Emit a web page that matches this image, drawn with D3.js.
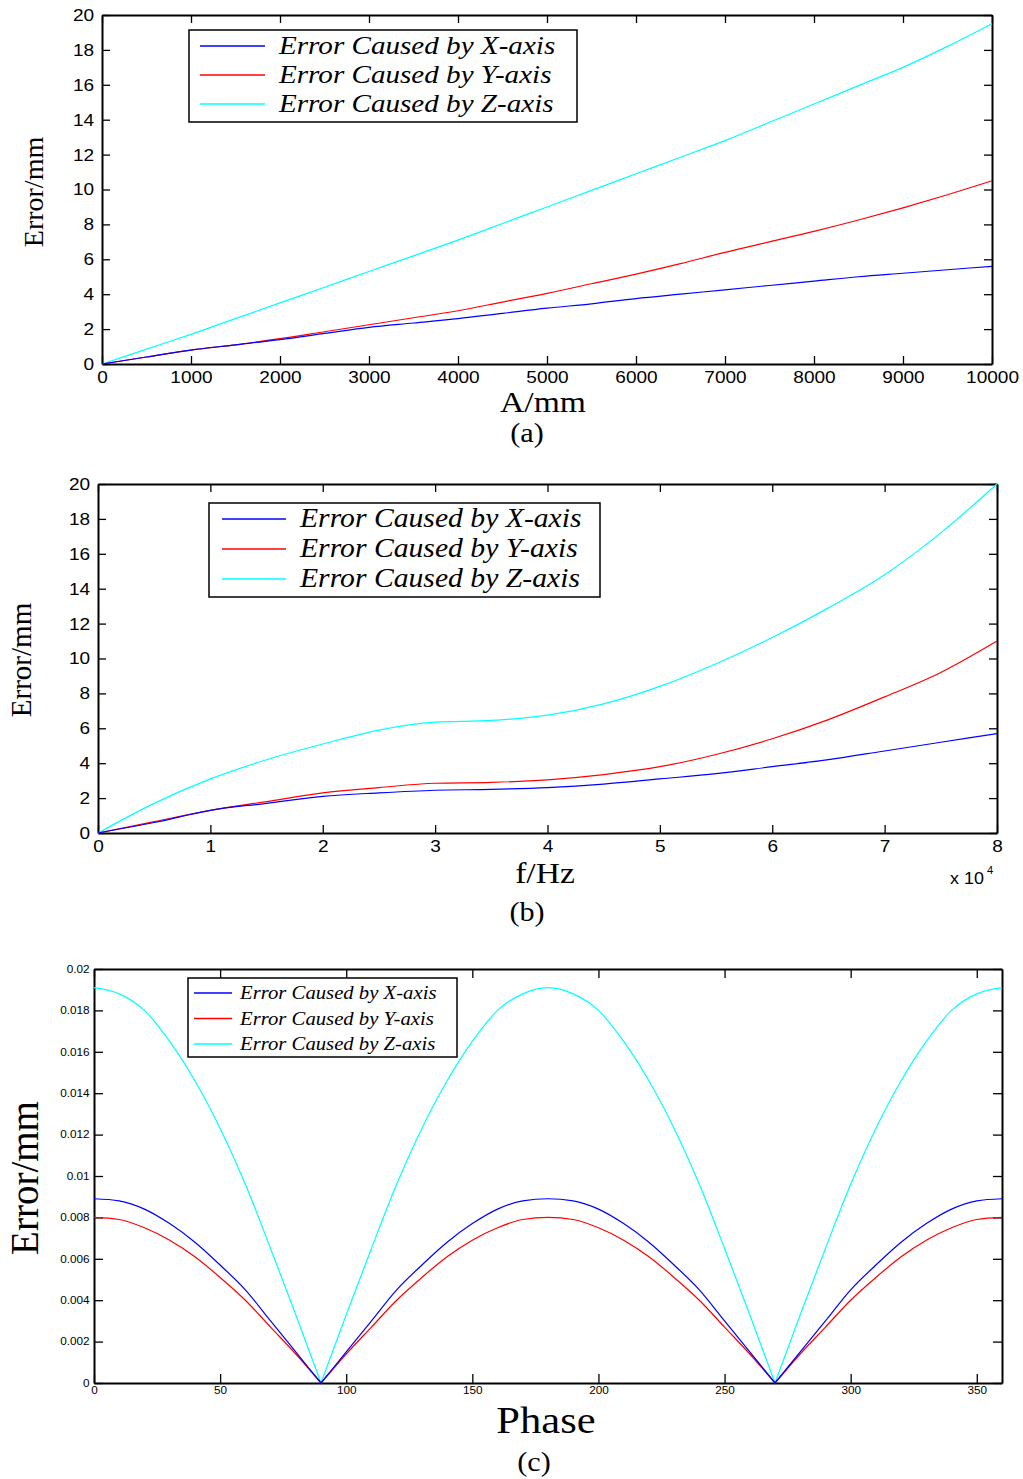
<!DOCTYPE html>
<html>
<head>
<meta charset="utf-8">
<title>Error curves</title>
<script src="https://d3js.org/d3.v7.min.js"></script>
<style>
  body { margin: 0; background: #fff; }
  .tick line { stroke: #000; stroke-width: 1.3px; }
  .tick text { fill: #000; font-family: "Liberation Sans", Arial, sans-serif; }
  .domain { stroke: #000; stroke-width: 2px; }
  .serif { font-family: "Liberation Serif", "Times New Roman", serif; fill: #000; }
</style>
</head>
<body>
<div id="chart"></div>
<script>
// ---- data ----
// (a) error vs amplitude A
var ampA = [0, 500, 1000, 1500, 2000, 2500, 3000, 3500, 4000, 4500, 5000, 5500, 6000, 6500, 7000, 7500, 8000, 8500, 9000, 9500, 10000];
var errAX = [0, 0.4, 0.8, 1.1, 1.4, 1.75, 2.1, 2.35, 2.6, 2.9, 3.2, 3.45, 3.75, 4.0, 4.25, 4.5, 4.75, 5.0, 5.2, 5.4, 5.6];
var errAY = [0, 0.4, 0.8, 1.1, 1.45, 1.85, 2.25, 2.65, 3.05, 3.55, 4.05, 4.6, 5.15, 5.75, 6.4, 7.0, 7.6, 8.25, 8.95, 9.7, 10.5];
var errAZ = [0, 0.85, 1.7, 2.6, 3.5, 4.4, 5.3, 6.2, 7.1, 8.05, 9.0, 9.95, 10.9, 11.85, 12.8, 13.85, 14.9, 15.95, 17.0, 18.2, 19.5];

// (b) error vs frequency f (x 10^4 Hz)
var freqB = [0, 0.5, 1, 1.5, 2, 2.5, 3, 3.5, 4, 4.5, 5, 5.5, 6, 6.5, 7, 7.5, 8];
var errBX = [0, 0.6, 1.3, 1.7, 2.1, 2.3, 2.45, 2.5, 2.6, 2.8, 3.1, 3.4, 3.8, 4.2, 4.7, 5.2, 5.7];
var errBY = [0, 0.65, 1.3, 1.8, 2.3, 2.6, 2.85, 2.9, 3.05, 3.35, 3.8, 4.5, 5.4, 6.5, 7.8, 9.2, 11.0];
var errBZ = [0, 1.7, 3.1, 4.2, 5.1, 5.9, 6.35, 6.45, 6.75, 7.4, 8.4, 9.7, 11.2, 12.9, 14.8, 17.2, 20.0];

// (c) error vs phase
var phaseC = [0, 10, 20, 30, 40, 50, 60, 70, 80, 90, 100, 110, 120, 130, 140, 150, 160, 170, 180,
              190, 200, 210, 220, 230, 240, 250, 260, 270, 280, 290, 300, 310, 320, 330, 340, 350, 360];
var errCX = [0.0089, 0.0088, 0.0084, 0.0077, 0.0068, 0.0057, 0.0045, 0.0030, 0.0015, 0,
             0.0015, 0.0030, 0.0045, 0.0057, 0.0068, 0.0077, 0.0084, 0.0088, 0.0089,
             0.0088, 0.0084, 0.0077, 0.0068, 0.0057, 0.0045, 0.0030, 0.0015, 0,
             0.0015, 0.0030, 0.0045, 0.0057, 0.0068, 0.0077, 0.0084, 0.0088, 0.0089];
var errCY = [0.0080, 0.0079, 0.0075, 0.0069, 0.0061, 0.0051, 0.0040, 0.0027, 0.0014, 0,
             0.0014, 0.0027, 0.0040, 0.0051, 0.0061, 0.0069, 0.0075, 0.0079, 0.0080,
             0.0079, 0.0075, 0.0069, 0.0061, 0.0051, 0.0040, 0.0027, 0.0014, 0,
             0.0014, 0.0027, 0.0040, 0.0051, 0.0061, 0.0069, 0.0075, 0.0079, 0.0080];
var errCZ = [0.0191, 0.0188, 0.0180, 0.0165, 0.0146, 0.0123, 0.0096, 0.0065, 0.0033, 0,
             0.0033, 0.0065, 0.0096, 0.0123, 0.0146, 0.0165, 0.0180, 0.0188, 0.0191,
             0.0188, 0.0180, 0.0165, 0.0146, 0.0123, 0.0096, 0.0065, 0.0033, 0,
             0.0033, 0.0065, 0.0096, 0.0123, 0.0146, 0.0165, 0.0180, 0.0188, 0.0191];

var legendLabels = ["Error Caused by X-axis", "Error Caused by Y-axis", "Error Caused by Z-axis"];
var seriesColors = ["#0000ff", "#ff0000", "#00ffff"];

var ticksA = [0, 1000, 2000, 3000, 4000, 5000, 6000, 7000, 8000, 9000, 10000];
var ticksB = [0, 1, 2, 3, 4, 5, 6, 7, 8];
var ticksC = [0, 50, 100, 150, 200, 250, 300, 350];
var ticksY = [0, 2, 4, 6, 8, 10, 12, 14, 16, 18, 20];
var ticksYC = [0, 0.002, 0.004, 0.006, 0.008, 0.01, 0.012, 0.014, 0.016, 0.018, 0.02];

var svg = d3.select("#chart").append("svg")
  .attr("width", 1023)
  .attr("height", 1479);

var SX = 1.12; // the figure is slightly stretched horizontally

function stretched(sel, x, y) {
  return sel.attr("transform", "translate(" + x + "," + y + ") scale(" + SX + ",1)");
}

// split a series into pieces at its zero cusps so each arch is smoothed alone
function pieces(xs, ys) {
  var out = [], cur = [];
  xs.forEach(function(v, j) {
    cur.push([v, ys[j]]);
    if (ys[j] === 0 && j > 0 && j < xs.length - 1) {
      out.push(cur);
      cur = [[v, ys[j]]];
    }
  });
  out.push(cur);
  return out;
}

function drawPanel(p) {
  var w = p.right - p.left, h = p.bottom - p.top;
  var g = svg.append("g").attr("transform", "translate(" + p.left + "," + p.top + ")");

  var x = d3.scaleLinear().domain(p.xDomain).range([0, w]);
  var y = d3.scaleLinear().domain(p.yDomain).range([h, 0]);

  // frame (box on, ticks on all four sides)
  g.append("g").attr("transform", "translate(0," + h + ")")
    .call(d3.axisBottom(x).tickValues(p.xTicks).tickSize(-p.tick).tickSizeOuter(0).tickPadding(p.pad).tickFormat(d3.format("")))
    .call(a => a.selectAll("text").attr("font-size", p.tickFont).attr("transform", "scale(" + SX + ",1)"));
  g.append("g")
    .call(d3.axisLeft(y).tickValues(p.yTicks).tickSize(-p.tick).tickSizeOuter(0).tickPadding(p.pad).tickFormat(p.yFormat))
    .call(a => a.selectAll("text").attr("font-size", p.tickFont).attr("transform", "scale(" + SX + ",1)"));
  g.append("g")
    .call(d3.axisTop(x).tickValues(p.xTicks).tickSize(-p.tick).tickSizeOuter(0).tickFormat(""));
  g.append("g").attr("transform", "translate(" + w + ",0)")
    .call(d3.axisRight(y).tickValues(p.yTicks).tickSize(-p.tick).tickSizeOuter(0).tickFormat(""));

  var line = d3.line().x(d => x(d[0])).y(d => y(d[1])).curve(d3.curveMonotoneX);
  // draw Z first, then Y, then X on top
  [2, 1, 0].forEach(function(i) {
    pieces(p.xs, p.series[i]).forEach(function(seg) {
      g.append("path")
        .datum(seg)
        .attr("fill", "none")
        .attr("stroke", seriesColors[i])
        .attr("stroke-width", 1.2)
        .attr("d", line);
    });
  });

  // legend
  var L = p.legend;
  var lg = svg.append("g");
  lg.append("rect")
    .attr("x", L.x).attr("y", L.y).attr("width", L.w).attr("height", L.h)
    .attr("fill", "#fff").attr("stroke", "#000").attr("stroke-width", 1.5);
  legendLabels.forEach(function(lab, i) {
    var ly = L.y0 + i * L.dy;
    lg.append("line")
      .attr("x1", L.lx1).attr("x2", L.lx2).attr("y1", ly).attr("y2", ly)
      .attr("stroke", seriesColors[i]).attr("stroke-width", 1.3);
    stretched(lg.append("text"), L.tx, ly + L.base)
      .attr("class", "serif")
      .attr("font-style", "italic")
      .attr("font-size", L.font)
      .text(lab);
  });

  // axis titles
  svg.append("text").attr("class", "serif")
    .attr("transform", "translate(" + p.yLab[0] + "," + p.yLab[1] + ") rotate(-90)")
    .attr("text-anchor", "middle").attr("font-size", p.yLab[2])
    .text("Error/mm");
  stretched(svg.append("text"), p.xLab[0], p.xLab[1])
    .attr("class", "serif").attr("text-anchor", "middle").attr("font-size", p.xLab[2])
    .text(p.xTitle);
  stretched(svg.append("text"), p.cap[0], p.cap[1])
    .attr("class", "serif").attr("text-anchor", "middle").attr("font-size", 27)
    .text(p.caption);
}

drawPanel({
  left: 102, right: 992, top: 15, bottom: 364,
  xDomain: [0, 10000], yDomain: [0, 20], xTicks: ticksA, yTicks: ticksY,
  yFormat: d3.format(""), tick: 8, pad: 7, tickFont: 17,
  xs: ampA, series: [errAX, errAY, errAZ],
  legend: {x: 189, y: 30, w: 388, h: 92, y0: 46, dy: 29, lx1: 200, lx2: 265, tx: 279, base: 8, font: 26},
  yLab: [43, 192, 28], xLab: [543, 412, 30], xTitle: "A/mm",
  cap: [527, 442], caption: "(a)"
});

drawPanel({
  left: 98, right: 997, top: 484, bottom: 833,
  xDomain: [0, 8], yDomain: [0, 20], xTicks: ticksB, yTicks: ticksY,
  yFormat: d3.format(""), tick: 8, pad: 7, tickFont: 17,
  xs: freqB, series: [errBX, errBY, errBZ],
  legend: {x: 209, y: 503, w: 391, h: 94, y0: 519, dy: 30, lx1: 222, lx2: 286, tx: 300, base: 8, font: 26.5},
  yLab: [31, 660, 29], xLab: [545, 883, 30], xTitle: "f/Hz",
  cap: [527, 921], caption: "(b)"
});

// exponent note for (b)
stretched(svg.append("text"), 950, 884)
  .attr("font-family", "Liberation Sans, Arial, sans-serif").attr("font-size", 16).text("x 10");
stretched(svg.append("text"), 987, 874)
  .attr("font-family", "Liberation Sans, Arial, sans-serif").attr("font-size", 10).text("4");

drawPanel({
  left: 94, right: 1002, top: 969, bottom: 1383,
  xDomain: [0, 360], yDomain: [0, 0.02], xTicks: ticksC, yTicks: ticksYC,
  yFormat: d => d === 0 ? "0" : d3.format("")(+d.toFixed(3)), tick: 9, pad: 4, tickFont: 10.5,
  xs: phaseC, series: [errCX, errCY, errCZ],
  legend: {x: 188, y: 978, w: 269, h: 79, y0: 993, dy: 25.5, lx1: 194, lx2: 232, tx: 240, base: 6, font: 18.5},
  yLab: [38, 1178, 39], xLab: [546, 1433, 38], xTitle: "Phase",
  cap: [534, 1471], caption: "(c)"
});
</script>
</body>
</html>
